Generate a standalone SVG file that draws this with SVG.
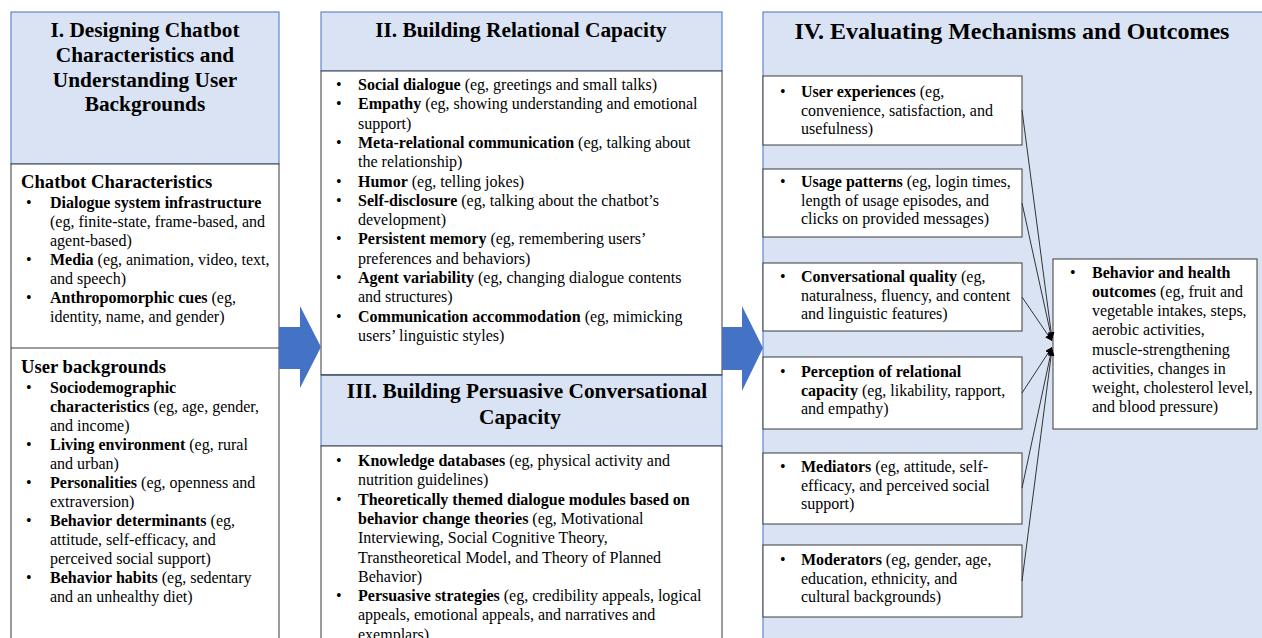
<svg xmlns="http://www.w3.org/2000/svg" width="1262" height="638" viewBox="0 0 1262 638">
<defs>
<style>
text{font-family:"Liberation Serif","Times New Roman",serif;fill:#000}
.title{font-size:21.33px;font-weight:bold;text-anchor:middle}
.title4{font-size:24px;font-weight:bold;text-anchor:middle}
.h{font-size:18.67px;font-weight:bold}
.b{font-size:16px}
.k{font-weight:bold}
.hdr{fill:#DAE3F3;stroke:#4472C4;stroke-width:1}
.box{fill:#fff;stroke:#3a3a3a;stroke-width:1}
.bigarrow{fill:#4472C4}
.conn{stroke:#333;stroke-width:1;fill:none;marker-end:url(#ah)}
</style>
<marker id="ah" viewBox="0 0 10 10" refX="10" refY="5" markerUnits="userSpaceOnUse" markerWidth="7" markerHeight="7" orient="auto">
<path d="M0,0 L10,5 L0,10 z" fill="#000"/>
</marker>
</defs>
<rect width="1262" height="638" fill="#fff"/>

<g id="panel-4-bg">
<rect x="763" y="12" width="520" height="640" class="hdr"/>
<text class="title4" x="1012" y="39">IV. Evaluating Mechanisms and Outcomes</text>
</g>

<g id="panel-1">
<rect x="11" y="12" width="268" height="152" class="hdr"/>
<text class="title" x="145" y="37">I. Designing Chatbot</text>
<text class="title" x="145" y="62">Characteristics and</text>
<text class="title" x="145" y="86.5">Understanding User</text>
<text class="title" x="145" y="111">Backgrounds</text>
<rect x="11" y="164" width="268" height="500" class="box"/>
<line x1="11" y1="348" x2="279" y2="348" stroke="#3a3a3a" stroke-width="1"/>
<text class="h" x="21" y="188">Chatbot Characteristics</text>
<g class="b">
<text x="26" y="208">•</text><text x="50" y="208" class="k">Dialogue system infrastructure</text>
<text x="50" y="227">(eg, finite-state, frame-based, and</text>
<text x="50" y="246">agent-based)</text>
<text x="26" y="265">•</text><text x="50" y="265"><tspan class="k">Media</tspan> (eg, animation, video, text,</text>
<text x="50" y="284">and speech)</text>
<text x="26" y="303">•</text><text x="50" y="303"><tspan class="k">Anthropomorphic cues</tspan> (eg,</text>
<text x="50" y="322">identity, name, and gender)</text>
</g>
<text class="h" x="21" y="373">User backgrounds</text>
<g class="b">
<text x="26" y="393">•</text><text x="50" y="393" class="k">Sociodemographic</text>
<text x="50" y="412"><tspan class="k">characteristics</tspan> (eg, age, gender,</text>
<text x="50" y="431">and income)</text>
<text x="26" y="450">•</text><text x="50" y="450"><tspan class="k">Living environment</tspan> (eg, rural</text>
<text x="50" y="469">and urban)</text>
<text x="26" y="488">•</text><text x="50" y="488"><tspan class="k">Personalities</tspan> (eg, openness and</text>
<text x="50" y="507">extraversion)</text>
<text x="26" y="526">•</text><text x="50" y="526"><tspan class="k">Behavior determinants</tspan> (eg,</text>
<text x="50" y="545">attitude, self-efficacy, and</text>
<text x="50" y="564">perceived social support)</text>
<text x="26" y="583">•</text><text x="50" y="583"><tspan class="k">Behavior habits</tspan> (eg, sedentary</text>
<text x="50" y="602">and an unhealthy diet)</text>
</g>
</g>

<g id="panel-2">
<rect x="321" y="12" width="401" height="59" class="hdr"/>
<text class="title" x="521" y="37">II. Building Relational Capacity</text>
<rect x="321" y="71" width="401" height="304" class="box"/>
<g class="b">
<text x="336" y="90">•</text><text x="358" y="90"><tspan class="k">Social dialogue</tspan> (eg, greetings and small talks)</text>
<text x="336" y="109.3">•</text><text x="358" y="109.3"><tspan class="k">Empathy</tspan> (eg, showing understanding and emotional</text>
<text x="358" y="128.6">support)</text>
<text x="336" y="147.9">•</text><text x="358" y="147.9"><tspan class="k">Meta-relational communication</tspan> (eg, talking about</text>
<text x="358" y="167.2">the relationship)</text>
<text x="336" y="186.5">•</text><text x="358" y="186.5"><tspan class="k">Humor</tspan> (eg, telling jokes)</text>
<text x="336" y="205.8">•</text><text x="358" y="205.8"><tspan class="k">Self-disclosure</tspan> (eg, talking about the chatbot’s</text>
<text x="358" y="225.1">development)</text>
<text x="336" y="244.4">•</text><text x="358" y="244.4"><tspan class="k">Persistent memory</tspan> (eg, remembering users’</text>
<text x="358" y="263.7">preferences and behaviors)</text>
<text x="336" y="283">•</text><text x="358" y="283"><tspan class="k">Agent variability</tspan> (eg, changing dialogue contents</text>
<text x="358" y="302.3">and structures)</text>
<text x="336" y="321.6">•</text><text x="358" y="321.6"><tspan class="k">Communication accommodation</tspan> (eg, mimicking</text>
<text x="358" y="340.9">users’ linguistic styles)</text>
</g>
</g>

<g id="panel-3">
<rect x="321" y="375" width="401" height="71" class="hdr"/>
<text class="title" x="527" y="398">III. Building Persuasive Conversational</text>
<text class="title" x="520" y="424">Capacity</text>
<rect x="321" y="446" width="401" height="220" class="box"/>
<line x1="321" y1="375" x2="722" y2="375" stroke="#3a3a3a" stroke-width="1"/>
<g class="b">
<text x="336" y="466">•</text><text x="358" y="466"><tspan class="k">Knowledge databases</tspan> (eg, physical activity and</text>
<text x="358" y="485.3">nutrition guidelines)</text>
<text x="336" y="504.6">•</text><text x="358" y="504.6" class="k">Theoretically themed dialogue modules based on</text>
<text x="358" y="523.9"><tspan class="k">behavior change theories</tspan> (eg, Motivational</text>
<text x="358" y="543.2">Interviewing, Social Cognitive Theory,</text>
<text x="358" y="562.5">Transtheoretical Model, and Theory of Planned</text>
<text x="358" y="581.8">Behavior)</text>
<text x="336" y="601.1">•</text><text x="358" y="601.1"><tspan class="k">Persuasive strategies</tspan> (eg, credibility appeals, logical</text>
<text x="358" y="620.4">appeals, emotional appeals, and narratives and</text>
<text x="358" y="639.7">exemplars)</text>
</g>
</g>

<g id="arrows">
<polygon class="bigarrow" points="279,327 300,327 300,306 321,347 300,388 300,369 279,369"/>
<polygon class="bigarrow" points="722,327 742,327 742,306 763,348 742,391 742,370 722,370"/>
</g>

<g id="box-user-experiences">
<rect x="763" y="76" width="259" height="69" class="box"/>
<g class="b">
<text x="780" y="97">•</text><text x="801" y="97"><tspan class="k">User experiences</tspan> (eg,</text>
<text x="801" y="115.5">convenience, satisfaction, and</text>
<text x="801" y="134">usefulness)</text>
</g>
</g>
<g id="box-usage-patterns">
<rect x="763" y="169" width="259" height="68" class="box"/>
<g class="b">
<text x="780" y="187">•</text><text x="801" y="187"><tspan class="k">Usage patterns</tspan> (eg, login times,</text>
<text x="801" y="205.5">length of usage episodes, and</text>
<text x="801" y="224">clicks on provided messages)</text>
</g>
</g>
<g id="box-conversational-quality">
<rect x="763" y="263" width="259" height="68" class="box"/>
<g class="b">
<text x="780" y="282">•</text><text x="801" y="282"><tspan class="k">Conversational quality</tspan> (eg,</text>
<text x="801" y="300.5">naturalness, fluency, and content</text>
<text x="801" y="319">and linguistic features)</text>
</g>
</g>
<g id="box-perception">
<rect x="763" y="357" width="259" height="72" class="box"/>
<g class="b">
<text x="780" y="377">•</text><text x="801" y="377" class="k">Perception of relational</text>
<text x="801" y="395.5"><tspan class="k">capacity</tspan> (eg, likability, rapport,</text>
<text x="801" y="414">and empathy)</text>
</g>
</g>
<g id="box-mediators">
<rect x="763" y="453" width="259" height="71" class="box"/>
<g class="b">
<text x="780" y="472">•</text><text x="801" y="472"><tspan class="k">Mediators</tspan> (eg, attitude, self-</text>
<text x="801" y="490.5">efficacy, and perceived social</text>
<text x="801" y="509">support)</text>
</g>
</g>
<g id="box-moderators">
<rect x="763" y="545" width="259" height="72" class="box"/>
<g class="b">
<text x="780" y="565">•</text><text x="801" y="565"><tspan class="k">Moderators</tspan> (eg, gender, age,</text>
<text x="801" y="583.5">education, ethnicity, and</text>
<text x="801" y="602">cultural backgrounds)</text>
</g>
</g>
<g id="box-outcomes">
<rect x="1053" y="259" width="204" height="170" class="box"/>
<g class="b">
<text x="1070" y="278">•</text><text x="1092" y="278" class="k">Behavior and health</text>
<text x="1092" y="297"><tspan class="k">outcomes</tspan> (eg, fruit and</text>
<text x="1092" y="316">vegetable intakes, steps,</text>
<text x="1092" y="335">aerobic activities,</text>
<text x="1092" y="354.5">muscle-strengthening</text>
<text x="1092" y="373.5">activities, changes in</text>
<text x="1092" y="392.5">weight, cholesterol level,</text>
<text x="1092" y="412">and blood pressure)</text>
</g>
</g>

<g id="connectors">
<line class="conn" x1="1022" y1="110" x2="1052" y2="339"/>
<line class="conn" x1="1022" y1="203" x2="1052" y2="340"/>
<line class="conn" x1="1022" y1="297" x2="1052" y2="341"/>
<line class="conn" x1="1022" y1="393" x2="1052" y2="347"/>
<line class="conn" x1="1022" y1="488" x2="1052" y2="348"/>
<line class="conn" x1="1022" y1="581" x2="1052" y2="349"/>
</g>
</svg>
